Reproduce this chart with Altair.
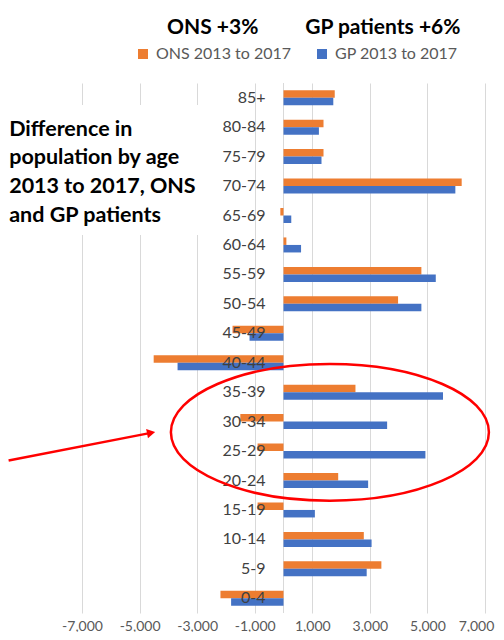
import altair as alt
import pandas as pd

# ---- data ----
ages = ["85+", "80-84", "75-79", "70-74", "65-69", "60-64", "55-59", "50-54", "45-49",
        "40-44", "35-39", "30-34", "25-29", "20-24", "15-19", "10-14", "5-9", "0-4"]
ons = [1780, 1390, 1390, 6190, -110, 100, 4790, 3980, -1770,
       -4510, 2500, -1500, -900, 1900, -900, 2790, 3400, -2190]
gp = [1730, 1230, 1320, 5970, 270, 610, 5290, 4790, -1180,
      -3680, 5540, 3600, 4930, 2940, 1090, 3060, 2890, -1820]
series_names = ["ONS 2013 to 2017", "GP 2013 to 2017"]
series_colors = ["#ED7D31", "#4472C4"]
x_ticks = [-7000, -5000, -3000, -1000, 1000, 3000, 5000, 7000]
title_text = "ONS +3%\u2003\u2003\u00a0\u00a0\u00a0GP patients +6%"
note_lines = ["Difference in", "population by age", "2013 to 2017, ONS", "and GP patients"]

FONT = "Lato"

rows = []
for a, o, g in zip(ages, ons, gp):
    rows.append({"age": a, "series": series_names[0], "value": o})
    rows.append({"age": a, "series": series_names[1], "value": g})
df = pd.DataFrame(rows)

xscale = alt.Scale(domain=[-7000, 7000], nice=False, zero=False)
yband = alt.Scale(domain=ages, paddingInner=0.49, paddingOuter=0.245)

bars = alt.Chart(df).mark_bar().encode(
    x=alt.X("value:Q", scale=xscale,
            axis=alt.Axis(values=x_ticks, title=None, domain=False, ticks=False,
                          labelExpr="replace(format(datum.value, ',.0f'), '\u2212', '-')",
                          labelFlush=False,
                          labelOffset={"condition": {"test": "datum.value == 7000", "value": -9}, "value": 0},
                          grid=True, gridColor="#d9d9d9", gridWidth=1,
                          labelFont=FONT, labelFontSize=14, labelColor="#595959",
                          labelPadding=6)),
    y=alt.Y("age:N", scale=yband, axis=None, sort=ages),
    yOffset=alt.YOffset("series:N", sort=series_names,
                        scale=alt.Scale(domain=series_names, paddingInner=0, paddingOuter=0)),
    color=alt.Color("series:N",
                    scale=alt.Scale(domain=series_names, range=series_colors),
                    legend=alt.Legend(title=None, orient="none", direction="horizontal",
                                      columns=2, legendX=53, legendY=-37,
                                      symbolType="square", symbolSize=100, symbolStrokeWidth=0,
                                      labelFont=FONT, labelFontSize=16, labelColor="#595959",
                                      labelOffset=5, columnPadding=23, padding=0)),
)

zero_rule = alt.Chart(pd.DataFrame({"z": [0]})).mark_rule(color="#d9d9d9", strokeWidth=1).encode(
    x=alt.X("z:Q", scale=xscale)
)

labels = alt.Chart(pd.DataFrame({"age": ages})).mark_text(
    align="right", baseline="middle", dx=-18, font=FONT, fontSize=16, color="#404040"
).encode(
    x=alt.datum(0, scale=xscale),
    y=alt.Y("age:N", scale=yband, axis=None, sort=ages),
    text="age:N",
)

# ---- annotation layer on a row-position scale (one unit = one age band) ----
rowscale = alt.Scale(domain=[0, 18], reverse=True, nice=False, zero=False)

note_box = alt.Chart(pd.DataFrame({"x": [-9600], "x2": [-2600], "r": [0.75], "r2": [5.16]})).mark_rect(
    color="white"
).encode(
    x=alt.X("x:Q", scale=xscale), x2="x2:Q",
    y=alt.Y("r:Q", scale=rowscale, axis=None), y2="r2:Q",
)

note = alt.Chart(pd.DataFrame({"x": [-9530], "r": [1.79], "t": ["\n".join(note_lines)]})).mark_text(
    align="left", baseline="alphabetic", lineBreak="\n", lineHeight=28.7,
    font=FONT, fontSize=21.5, fontWeight="bold", color="black"
).encode(
    x=alt.X("x:Q", scale=xscale),
    y=alt.Y("r:Q", scale=rowscale, axis=None),
    text="t:N",
)

arrow_line = alt.Chart(pd.DataFrame({"x": [-9549], "x2": [-4697], "r": [12.82], "r2": [11.90]})).mark_rule(
    color="#FF0000", strokeWidth=2.5
).encode(
    x=alt.X("x:Q", scale=xscale), x2="x2:Q",
    y=alt.Y("r:Q", scale=rowscale, axis=None), y2="r2:Q",
)

arrow_head = alt.Chart(pd.DataFrame({"x": [-4600], "r": [11.88]})).mark_point(
    shape="triangle-right", filled=True, color="#FF0000", size=90, angle=349, opacity=1
).encode(
    x=alt.X("x:Q", scale=xscale),
    y=alt.Y("r:Q", scale=rowscale, axis=None),
)

K = 0.5523
RY = 0.43
ell_path = (
    f"M -1 0 C -1 {-RY*K:.4f} {-K} {-RY} 0 {-RY} "
    f"C {K} {-RY} 1 {-RY*K:.4f} 1 0 "
    f"C 1 {RY*K:.4f} {K} {RY} 0 {RY} "
    f"C {-K} {RY} -1 {RY*K:.4f} -1 0 Z"
)
ellipse = alt.Chart(pd.DataFrame({"x": [1612], "r": [11.865]})).mark_point(
    shape=ell_path, filled=False, color="#FF0000", strokeWidth=2.5, size=318 * 318, opacity=1
).encode(
    x=alt.X("x:Q", scale=xscale),
    y=alt.Y("r:Q", scale=rowscale, axis=None),
)

chart = alt.layer(
    zero_rule, bars, labels, note_box, note, arrow_line, arrow_head, ellipse
).resolve_scale(
    y="independent"
).properties(
    width=403, height=530,
    autosize=alt.AutoSizeParams(type="none"),
    padding={"left": 74, "top": 75, "right": 11, "bottom": 19},
    title=alt.Title(title_text, anchor="start", frame="group", dx=85, offset=8,
                    font=FONT, fontSize=21, fontWeight="bold", color="black"),
).configure_view(stroke=None)

chart.save("out.html", embed_options={"renderer": "svg", "actions": False})
